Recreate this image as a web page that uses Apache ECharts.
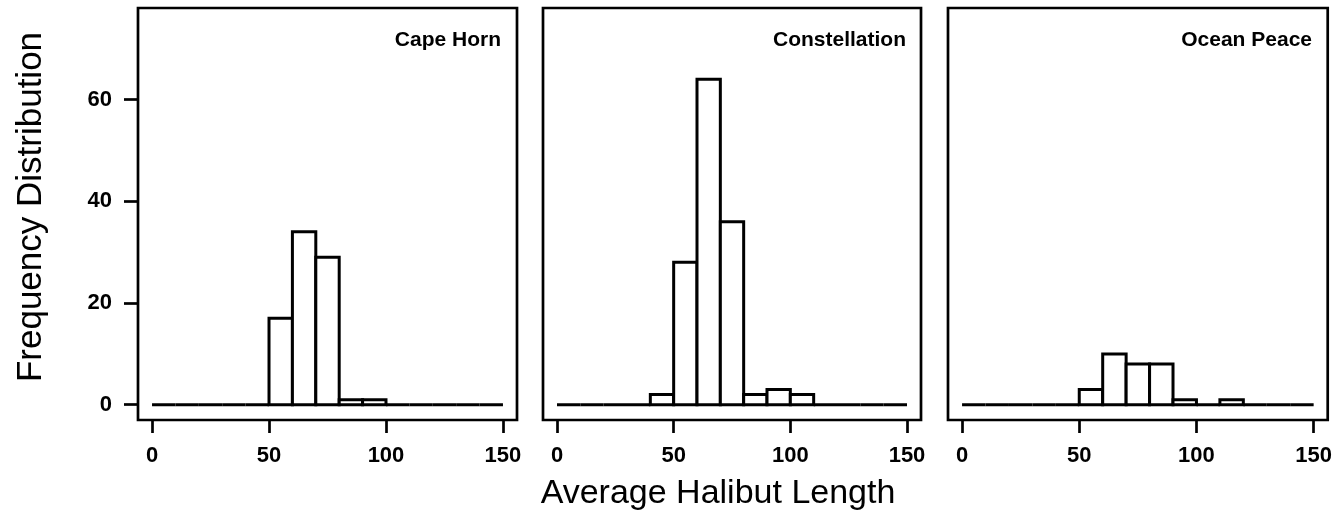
<!DOCTYPE html>
<html>
<head>
<meta charset="utf-8">
<script src="https://cdn.jsdelivr.net/npm/echarts@6/dist/echarts.min.js"></script>
<style>
  html, body { margin: 0; padding: 0; background: #fff; }
  #chart { width: 1335px; height: 520px; }
</style>
</head>
<body>
<div id="chart"></div>
<script>
// ---- data ----
var binStarts = [0, 10, 20, 30, 40, 50, 60, 70, 80, 90, 100, 110, 120, 130, 140];
var binWidth = 10;
var panelNames = ["Cape Horn", "Constellation", "Ocean Peace"];
var capeHorn      = [0, 0, 0, 0, 0, 17, 34, 29, 1, 1, 0, 0, 0, 0, 0];
var constellation = [0, 0, 0, 0, 2, 28, 64, 36, 2, 3, 2, 0, 0, 0, 0];
var oceanPeace    = [0, 0, 0, 0, 0, 3, 10, 8, 8, 1, 0, 1, 0, 0, 0];
var xTicks = [0, 50, 100, 150];
var yTicks = [0, 20, 40, 60];
var xTitle = "Average Halibut Length";
var yTitle = "Frequency Distribution";

var counts = [capeHorn, constellation, oceanPeace];
var FONT = "'Liberation Sans', Arial, Helvetica, sans-serif";

var grids = [
  { left: 138, top: 8, width: 379, height: 412 },
  { left: 543, top: 8, width: 378, height: 412 },
  { left: 948, top: 8, width: 380, height: 412 }
];
var labelRights = [829, 424, 18];

var option = {
  backgroundColor: '#fff',
  animation: false,
  title: [],
  grid: [],
  xAxis: [],
  yAxis: [],
  series: [],
  graphic: [
    {
      type: 'text', x: 718, y: 494,
      style: { text: xTitle, font: '34px ' + FONT, fill: '#000', textAlign: 'center', textVerticalAlign: 'middle' }
    },
    {
      type: 'text', x: 31, y: 207, rotation: Math.PI / 2,
      style: { text: yTitle, font: '35px ' + FONT, fill: '#000', textAlign: 'center', textVerticalAlign: 'middle' }
    }
  ]
};

function renderHist(params, api) {
  var x0 = api.value(0), x1 = api.value(1), c = api.value(2);
  var p0 = api.coord([x0, c]);
  var p1 = api.coord([x1, 0]);
  return {
    type: 'rect',
    shape: { x: p0[0], y: p0[1], width: p1[0] - p0[0], height: p1[1] - p0[1] },
    style: { fill: '#fff', stroke: '#000', lineWidth: 3 }
  };
}

for (var i = 0; i < 3; i++) {
  var g = grids[i];
  option.grid.push({
    left: g.left, top: g.top, width: g.width, height: g.height,
    show: true, borderColor: '#000', borderWidth: 2.7, backgroundColor: 'transparent'
  });
  option.xAxis.push({
    type: 'value', gridIndex: i, min: -6, max: 156, position: 'bottom',
    axisLine: { show: false, onZero: false },
    splitLine: { show: false },
    axisTick: { show: true, inside: false, length: 13, customValues: xTicks, lineStyle: { color: '#000', width: 2.7 } },
    axisLabel: { show: true, customValues: xTicks, margin: 25, color: '#000', fontSize: 22, fontWeight: 'bold', fontFamily: FONT }
  });
  option.yAxis.push({
    type: 'value', gridIndex: i, min: -3, max: 78, position: 'left',
    axisLine: { show: false, onZero: false },
    splitLine: { show: false },
    axisTick: { show: i === 0, inside: false, length: 14, customValues: yTicks, lineStyle: { color: '#000', width: 2.7 } },
    axisLabel: { show: i === 0, customValues: yTicks, margin: 26, color: '#000', fontSize: 22, fontWeight: 'bold', fontFamily: FONT }
  });
  var data = [];
  for (var k = 0; k < binStarts.length; k++) {
    data.push([binStarts[k], binStarts[k] + binWidth, counts[i][k]]);
  }
  option.series.push({
    type: 'custom', xAxisIndex: i, yAxisIndex: i,
    renderItem: renderHist,
    encode: { x: [0, 1], y: 2 },
    data: data
  });
  option.title.push({
    text: panelNames[i], right: labelRights[i], top: 25,
    textStyle: { fontSize: 21, fontWeight: 'bold', color: '#000', fontFamily: FONT }
  });
}

var chart = echarts.init(document.getElementById('chart'), null, { renderer: 'canvas' });
chart.setOption(option);
</script>
</body>
</html>
